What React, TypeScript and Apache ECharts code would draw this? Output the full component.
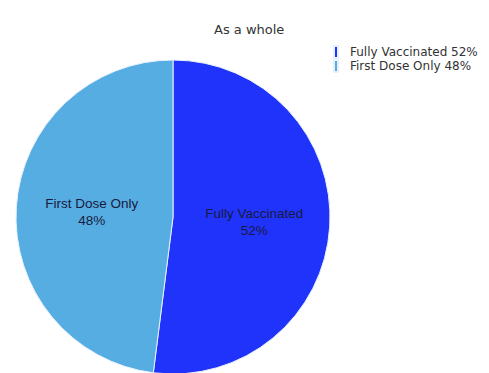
import React, { useEffect, useRef } from "react";
import * as echarts from "echarts";

// Share of vaccinated people by dose status
const categories = ["Fully Vaccinated", "First Dose Only"];
const shares = [52, 48];
const sliceColors = ["#1f33fb", "#55ade2"];
const chartTitle = "As a whole";

export default function App() {
  const ref = useRef<HTMLDivElement>(null);

  useEffect(() => {
    if (!ref.current) return;
    const chart = echarts.init(ref.current, undefined, { renderer: "svg" });

    const data = categories.map((name, i) => ({
      name,
      value: shares[i],
      itemStyle: { color: sliceColors[i] },
    }));

    chart.setOption({
      animation: false,
      backgroundColor: "#ffffff",
      title: {
        text: chartTitle,
        left: 214,
        top: 23,
        padding: 0,
        textStyle: {
          fontFamily: "DejaVu Sans",
          fontSize: 13,
          fontWeight: "normal",
          color: "#333333",
        },
      },
      legend: {
        orient: "vertical",
        left: 333,
        top: 45,
        padding: 0,
        itemWidth: 4,
        itemHeight: 12,
        itemGap: 0,
        icon: "rect",
        data: categories,
        formatter: (name: string) => `${name} ${shares[categories.indexOf(name)]}%`,
        textStyle: {
          fontFamily: "DejaVu Sans",
          fontSize: 12,
          lineHeight: 12,
          color: "#333333",
          padding: [0, 0, 0, 7],
        },
      },
      series: [
        {
          type: "pie",
          center: [173, 217],
          radius: 157,
          startAngle: 90,
          clockwise: true,
          data,
          itemStyle: { borderColor: "#e8f0ff", borderWidth: 1 },
          label: {
            position: "inner",
            formatter: "{b}\n{c}%",
            fontFamily: "Liberation Sans",
            fontSize: 13.5,
            lineHeight: 17,
            color: "#1a1a40",
          },
          labelLine: { show: false },
          emphasis: { disabled: true },
        },
      ],
    });

    return () => chart.dispose();
  }, []);

  return (
    <div
      ref={ref}
      style={{ position: "fixed", left: 0, top: 0, width: 489, height: 373 }}
    />
  );
}
